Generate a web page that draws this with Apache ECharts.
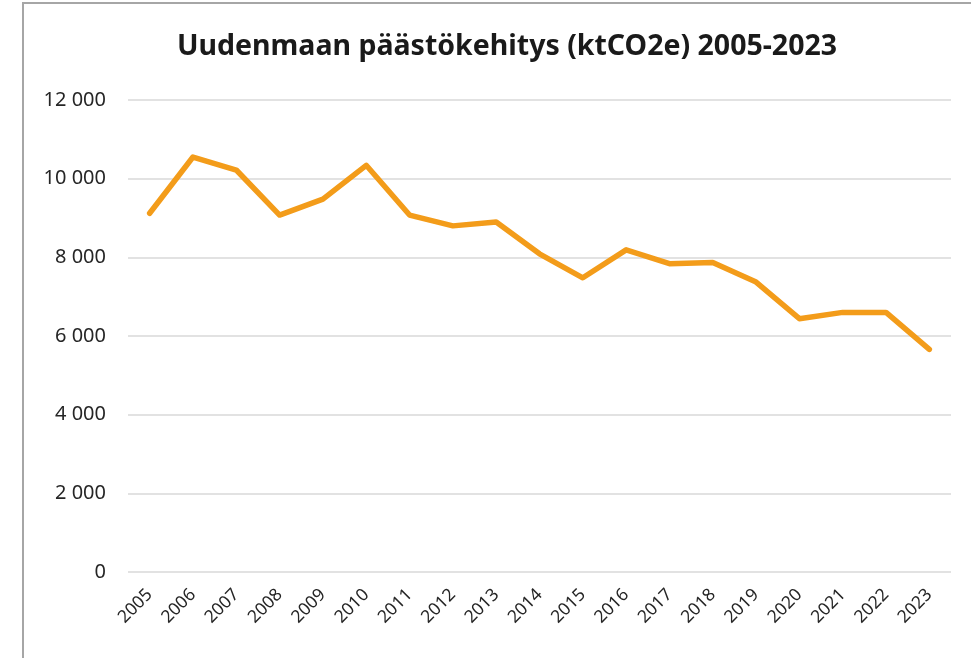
<!DOCTYPE html>
<html>
<head>
<meta charset="utf-8">
<script src="https://cdn.jsdelivr.net/npm/echarts@6/dist/echarts.min.js"></script>
<style>
  html, body { margin: 0; padding: 0; background: #fff; }
  #chart { width: 971px; height: 658px; }
</style>
</head>
<body>
<div id="chart"></div>
<script>
// Uudenmaan päästökehitys, ktCO2e, luettu kuvasta
const years = ['2005', '2006', '2007', '2008', '2009', '2010', '2011', '2012', '2013', '2014',
  '2015', '2016', '2017', '2018', '2019', '2020', '2021', '2022', '2023']
const emissions = [9120, 10550, 10220, 9075, 9480, 10340, 9075, 8800, 8900, 8090,
  7480, 8190, 7840, 7870, 7370, 6440, 6600, 6600, 5660]

const fmt = (v) => String(v).replace(/\B(?=(\d{3})+(?!\d))/g, '\u00a0')

const chart = echarts.init(document.getElementById('chart'))
chart.setOption({
  animation: false,
  textStyle: { fontFamily: '"Noto Sans", sans-serif' },
  title: {
    text: 'Uudenmaan päästökehitys (ktCO2e) 2005-2023',
    left: 502, top: 27, textAlign: 'center',
    textStyle: { fontSize: 28.5, fontWeight: 'bold', color: '#1a1a1a', fontFamily: '"Noto Sans", sans-serif' },
  },
  graphic: [{
    type: 'rect', silent: true,
    shape: { x: 23, y: 3, width: 1000, height: 700 },
    style: { fill: 'none', stroke: '#a6a6a6', lineWidth: 2 },
  }],
  grid: { left: 128, right: 20, top: 100, bottom: 86 },
  xAxis: {
    type: 'category', data: years, boundaryGap: true,
    axisLine: { show: false }, axisTick: { show: false },
    axisLabel: { rotate: 45, color: '#262626', fontSize: 17.5, margin: 20 },
  },
  yAxis: {
    type: 'value', min: 0, max: 12000, interval: 2000,
    axisLine: { show: false }, axisTick: { show: false },
    axisLabel: { color: '#262626', fontSize: 20, margin: 22, formatter: fmt },
    splitLine: { lineStyle: { color: '#d9d9d9', width: 1.5 } },
  },
  series: [{
    type: 'line', data: emissions, showSymbol: false,
    lineStyle: { color: '#f39c1a', width: 5.5, cap: 'round', join: 'round' },
  }],
})
</script>
</body>
</html>
